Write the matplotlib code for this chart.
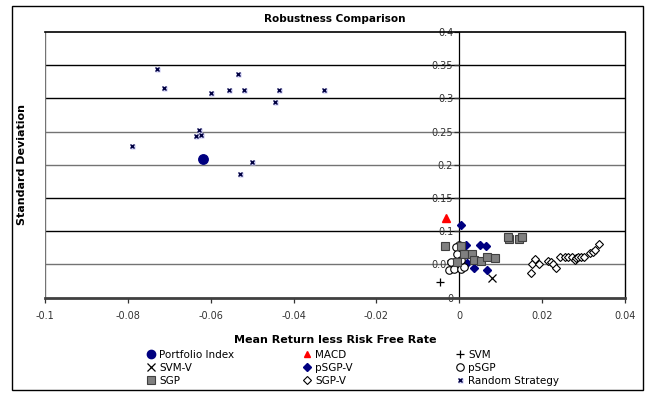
#!/usr/bin/env python3
"""Robustness comparison scatter: std deviation vs mean excess return."""

import matplotlib

matplotlib.use("Agg")
import matplotlib.pyplot as plt
import numpy as np
from matplotlib.lines import Line2D
from matplotlib.legend_handler import HandlerTuple


# ---- data ----
PORTFOLIO_X = [-0.0619]
PORTFOLIO_Y = [0.2083]

MACD_X = [-0.0033]
MACD_Y = [0.1200]

SVM_X = [-0.0047]
SVM_Y = [0.0235]

SVMV_X = [0.0078]
SVMV_Y = [0.0295]

PSGPV_X = [0.0003, 0.0017, 0.0050, 0.0065, 0.0019, 0.0035, 0.0067]
PSGPV_Y = [0.1098, 0.0788, 0.0797, 0.0782, 0.0526, 0.0446, 0.0411]

PSGP_X = [-0.0002, -0.0009, -0.0007, -0.0021, -0.0025, -0.0013, 0.0003, 0.0011, 0.0005]
PSGP_Y = [0.0788, 0.0762, 0.0661, 0.0536, 0.0411, 0.0426, 0.0426, 0.0461, 0.0560]

SGP_X = [-0.0035, 0.0003, 0.0011, 0.0031, 0.0035, -0.0007, 0.0051, 0.0066, 0.0085,
         0.0120, 0.0118, 0.0144, 0.0150]
SGP_Y = [0.0782, 0.0782, 0.0652, 0.0661, 0.0562, 0.0536, 0.0551, 0.0611, 0.0601,
         0.0878, 0.0908, 0.0878, 0.0918]

SGPV_X = [0.0172, 0.0175, 0.0183, 0.0193, 0.0214, 0.0220, 0.0226, 0.0234, 0.0243,
          0.0254, 0.0262, 0.0271, 0.0278, 0.0282, 0.0287, 0.0294, 0.0300, 0.0316,
          0.0322, 0.0326, 0.0336]
SGPV_Y = [0.0375, 0.0501, 0.0581, 0.0501, 0.0551, 0.0531, 0.0501, 0.0451, 0.0611,
          0.0611, 0.0611, 0.0611, 0.0566, 0.0591, 0.0611, 0.0611, 0.0616, 0.0667,
          0.0691, 0.0717, 0.0803]

RANDOM_X = [-0.0730, -0.0535, -0.0712, -0.0599, -0.0556, -0.0520, -0.0435, -0.0327,
            -0.0445, -0.0628, -0.0635, -0.0622, -0.0790, -0.0500, -0.0529]
RANDOM_Y = [0.3438, 0.3367, 0.3157, 0.3081, 0.3122, 0.3122, 0.3122, 0.3122,
            0.2941, 0.2524, 0.2438, 0.2454, 0.2278, 0.2042, 0.1861]

X_TICKS = [-0.1, -0.08, -0.06, -0.04, -0.02, 0, 0.02, 0.04]
Y_TICKS = [0, 0.05, 0.1, 0.15, 0.2, 0.25, 0.3, 0.35, 0.4]

# gridline shades as they appear in the reference
GRID_COLORS = {0.05: "0.45", 0.1: "0.0", 0.15: "0.0", 0.2: "0.45",
               0.25: "0.45", 0.3: "0.0", 0.35: "0.0"}

NAVY = "#000080"
LAVENDER = "#c4c4f0"
FONT = 7


def main() -> None:
    plt.rcParams.update({"font.family": "DejaVu Sans", "font.size": FONT})

    fig = plt.figure(figsize=(6.5, 3.93), dpi=100)
    fig.patches.append(plt.Rectangle((12 / 650, 3 / 393), 631 / 650, 384 / 393,
                                     transform=fig.transFigure, fill=False,
                                     edgecolor="black", linewidth=1.0))
    ax = fig.add_axes([44.7 / 650, 1 - 297.6 / 393, 580.6 / 650, 265.6 / 393])

    ax.set_xlim(-0.1, 0.04)
    ax.set_ylim(0, 0.4)

    for y, c in GRID_COLORS.items():
        ax.axhline(y, color=c, linewidth=1.0, zorder=1)
    ax.axvline(-0.1, color="0.45", linewidth=1.0, zorder=1)

    ax.spines["left"].set_position(("data", 0))
    ax.spines["left"].set_linewidth(0.9)
    ax.spines["left"].set_zorder(1.5)
    ax.spines["top"].set_linewidth(1.2)
    ax.spines["right"].set_linewidth(1.0)
    ax.spines["bottom"].set_linewidth(2.0)
    ax.spines["bottom"].set_color("0.25")

    ax.set_xticks(X_TICKS)
    ax.set_yticks(Y_TICKS)
    ax.set_xticklabels([f"{v:g}" for v in X_TICKS])
    ax.set_yticklabels([f"{v:g}" for v in Y_TICKS])
    ax.tick_params(axis="x", direction="out", length=3.5, width=0.9, pad=6,
                   labelsize=FONT, colors="0.2")
    ax.tick_params(axis="y", direction="out", length=3.5, width=0.9, pad=1,
                   labelsize=FONT, colors="0.2")
    for lab in ax.get_yticklabels():
        lab.set_zorder(0.5)

    # series in Excel order, later ones on top
    ax.plot(PORTFOLIO_X, PORTFOLIO_Y, "o", ms=6.8, color=NAVY, zorder=3)
    ax.plot(MACD_X, MACD_Y, "^", ms=5.2, color="#ff0000", zorder=3)
    ax.plot(SVM_X, SVM_Y, "+", ms=6.0, mew=0.9, color="black", zorder=3)
    ax.plot(SVMV_X, SVMV_Y, "x", ms=6.2, mew=0.9, color="black", zorder=3)
    ax.plot(PSGPV_X, PSGPV_Y, "D", ms=3.6, color=NAVY, zorder=3)
    ax.plot(PSGP_X, PSGP_Y, "o", ms=5.4, mfc="white", mec="black", mew=0.8, zorder=3)
    ax.plot(SGP_X, SGP_Y, "s", ms=5.6, mfc="#808080", mec="#404040", mew=0.8, zorder=3)
    ax.plot(SGPV_X, SGPV_Y, "D", ms=4.0, mfc="white", mec="black", mew=0.8, zorder=3)
    ax.plot(RANDOM_X, RANDOM_Y, "s", ms=3.6, color=LAVENDER, mec="none", zorder=3)
    ax.plot(RANDOM_X, RANDOM_Y, "x", ms=2.8, mew=1.0, color="#000040", zorder=3.1)

    fig.text(335 / 650, 1 - 19 / 393, "Robustness Comparison", ha="center",
             va="center", fontsize=7.5, fontweight="bold")
    fig.text(335 / 650, 1 - 340 / 393, "Mean Return less Risk Free Rate",
             ha="center", va="center", fontsize=8, fontweight="bold")
    fig.text(22 / 650, 1 - 165 / 393, "Standard Deviation", ha="center",
             va="center", rotation=90, fontsize=8, fontweight="bold")

    h = {
        "Portfolio Index": Line2D([], [], ls="none", marker="o", ms=6.0, color=NAVY),
        "MACD": Line2D([], [], ls="none", marker="^", ms=5.0, color="#ff0000"),
        "SVM": Line2D([], [], ls="none", marker="+", ms=6.0, mew=0.9, color="black"),
        "SVM-V": Line2D([], [], ls="none", marker="x", ms=6.0, mew=0.9, color="black"),
        "pSGP-V": Line2D([], [], ls="none", marker="D", ms=3.6, color=NAVY),
        "pSGP": Line2D([], [], ls="none", marker="o", ms=5.4, mfc="white",
                       mec="black", mew=0.8),
        "SGP": Line2D([], [], ls="none", marker="s", ms=5.6, mfc="#808080",
                      mec="#404040", mew=0.8),
        "SGP-V": Line2D([], [], ls="none", marker="D", ms=4.0, mfc="white",
                        mec="black", mew=0.8),
        "Random Strategy": (
            Line2D([], [], ls="none", marker="s", ms=3.6, color=LAVENDER, mec="none"),
            Line2D([], [], ls="none", marker="x", ms=2.8, mew=1.0, color="#000040"),
        ),
    }
    columns = [
        (146, ["Portfolio Index", "SVM-V", "SGP"]),
        (302, ["MACD", "pSGP-V", "SGP-V"]),
        (455, ["SVM", "pSGP", "Random Strategy"]),
    ]
    for x0, names in columns:
        fig.legend(
            [h[n] for n in names],
            names,
            loc="upper left",
            bbox_to_anchor=(x0 / 650, 1 - 349.5 / 393),
            frameon=False,
            fontsize=7.5,
            handlelength=0.9,
            handletextpad=0.35,
            labelspacing=0.3,
            borderaxespad=0,
            borderpad=0,
            handler_map={tuple: HandlerTuple(ndivide=1, pad=0)},
        )

    fig.savefig("out.png", dpi=100)
    plt.close(fig)


if __name__ == "__main__":
    main()
